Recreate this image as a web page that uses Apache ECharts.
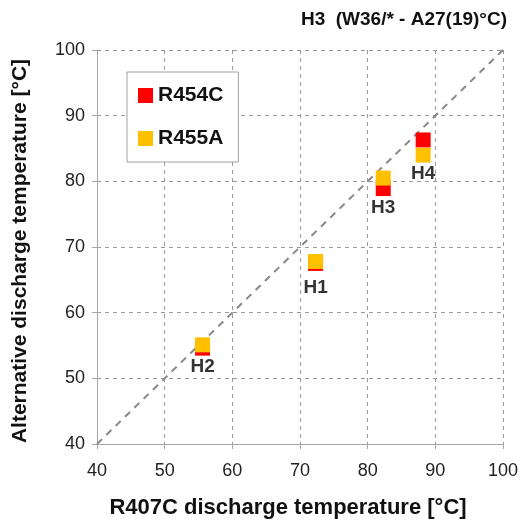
<!DOCTYPE html>
<html>
<head>
<meta charset="utf-8">
<script src="https://cdn.jsdelivr.net/npm/echarts@6/dist/echarts.min.js"></script>
<style>
  html, body { margin: 0; padding: 0; background: #fff; }
  #chart { width: 524px; height: 524px; }
</style>
</head>
<body>
<div id="chart"></div>
<script>
// Operating points H1..H4: R407C reference vs alternative refrigerants
const pointNames = ['H1', 'H2', 'H3', 'H4'];
const r407c = [72.3, 55.6, 82.3, 88.2];
const r454c = [67.5, 54.6, 78.9, 86.3];
const r455a = [67.8, 55.1, 80.5, 84.0];
const axisTicks = [40, 50, 60, 70, 80, 90, 100];

const FONT = '"Liberation Sans", Arial, sans-serif';

const chart = echarts.init(document.getElementById('chart'));

const pairs = (ys) => r407c.map((x, i) => ({
  name: pointNames[i],
  value: [x, ys[i]]
}));

// each point name sits under the lower of its two markers
const lowerPoints = pairs(r454c.map((v, i) => Math.min(v, r455a[i])));

const axisCommon = {
  type: 'value',
  min: axisTicks[0],
  max: axisTicks[axisTicks.length - 1],
  interval: 10,
  axisLine: { show: true, lineStyle: { color: '#a6a6a6', width: 1 } },
  axisTick: { show: true, inside: false, length: 5, lineStyle: { color: '#a6a6a6' } },
  splitLine: { show: true, lineStyle: { color: '#9a9a9a', type: [4, 4], width: 1 } },
  axisLabel: { color: '#222', fontSize: 18, fontFamily: FONT },
  nameLocation: 'middle',
  nameTextStyle: { color: '#111', fontSize: 21, fontWeight: 'bold', fontFamily: FONT }
};

chart.setOption({
  animation: false,
  title: {
    text: 'H3  (W36/* - A27(19)°C)',
    right: 12,
    top: 5,
    textStyle: { fontSize: 19, fontWeight: 'bold', color: '#111', fontFamily: FONT }
  },
  grid: { left: 97, right: 21, top: 50, bottom: 79 },
  legend: {
    orient: 'vertical',
    left: 127,
    top: 72,
    data: ['R454C', 'R455A'],
    icon: 'rect',
    itemWidth: 15,
    itemHeight: 15,
    itemGap: 22,
    padding: [13, 15, 13, 11],
    borderColor: '#a0a0a0',
    borderWidth: 1,
    backgroundColor: '#fff',
    textStyle: { fontSize: 21, fontWeight: 'bold', color: '#111', fontFamily: FONT }
  },
  xAxis: Object.assign({}, axisCommon, {
    name: 'R407C discharge temperature [°C]',
    nameGap: 53,
    nameTextStyle: Object.assign({}, axisCommon.nameTextStyle, { fontSize: 22, padding: [0, 24, 0, 0] }),
    axisLabel: Object.assign({}, axisCommon.axisLabel, { margin: 18 })
  }),
  yAxis: Object.assign({}, axisCommon, {
    name: 'Alternative discharge temperature [°C]',
    nameGap: 66,
    nameTextStyle: Object.assign({}, axisCommon.nameTextStyle, { padding: [0, 8, 0, 0] }),
    axisLabel: Object.assign({}, axisCommon.axisLabel, { margin: 12 })
  }),
  series: [
    {
      name: 'parity',
      type: 'line',
      data: [[axisTicks[0], axisTicks[0]], [axisTicks[axisTicks.length - 1], axisTicks[axisTicks.length - 1]]],
      symbol: 'none',
      silent: true,
      lineStyle: { color: '#888', width: 2, type: [7, 6] },
      z: 1
    },
    {
      name: 'R454C',
      type: 'scatter',
      symbol: 'rect',
      symbolSize: 15,
      itemStyle: { color: '#ff0000', opacity: 1 },
      data: pairs(r454c),
      z: 3
    },
    {
      name: 'R455A',
      type: 'scatter',
      symbol: 'rect',
      symbolSize: 15,
      itemStyle: { color: '#ffc000', opacity: 1 },
      data: pairs(r455a),
      z: 4
    },
    {
      name: 'point names',
      type: 'scatter',
      symbol: 'rect',
      symbolSize: 15,
      silent: true,
      itemStyle: { color: 'rgba(0,0,0,0)' },
      data: lowerPoints.map(d => d.name === 'H1' ? Object.assign(d, { label: { offset: [0, 5] } }) : d),
      label: {
        show: true,
        position: 'bottom',
        distance: 2,
        formatter: p => p.name,
        fontSize: 19,
        fontWeight: 'bold',
        color: '#000',
        fontFamily: FONT
      },
      z: 5
    }
  ]
});
</script>
</body>
</html>
